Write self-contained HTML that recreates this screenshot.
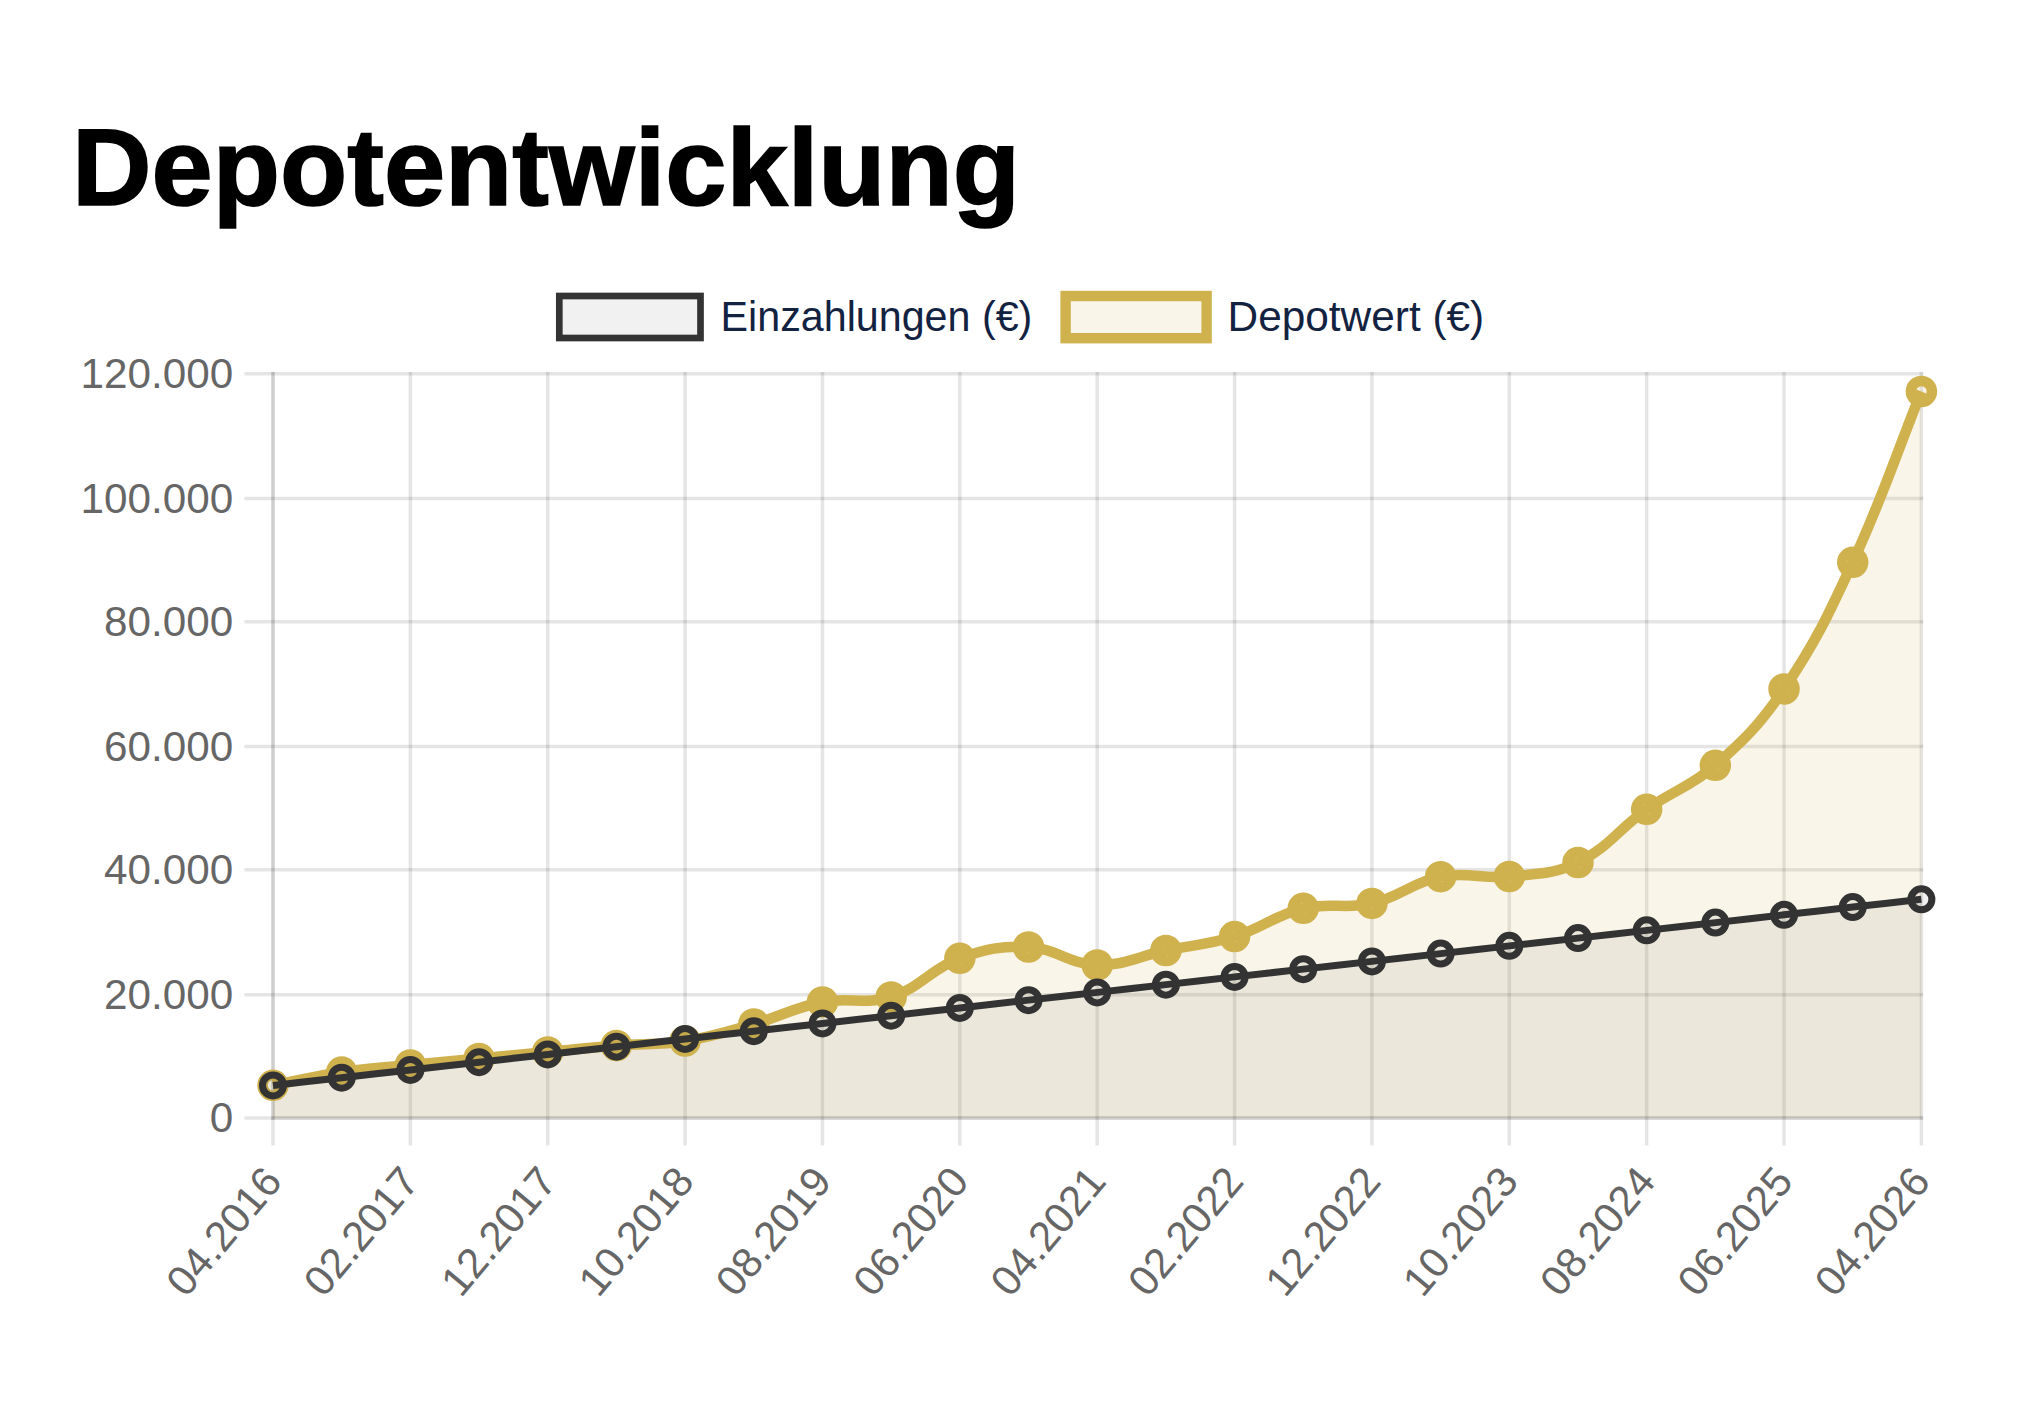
<!DOCTYPE html>
<html><head><meta charset="utf-8"><style>
html,body{margin:0;padding:0;background:#fff;width:2030px;height:1408px;overflow:hidden}
h1{position:absolute;left:71.5px;top:113px;margin:0;font-family:"Liberation Sans",sans-serif;font-weight:bold;font-size:109px;line-height:1;color:#000;white-space:nowrap;transform:scaleX(1.01);transform-origin:0 0;-webkit-text-stroke:1.6px #000}
svg{position:absolute;left:0;top:0}
.tk{font-family:"Liberation Sans",sans-serif;font-size:42px;fill:#666}
.lg{font-family:"Liberation Sans",sans-serif;font-size:42px;fill:#132241}
</style></head><body>
<h1 id="t">Depotentwicklung</h1>
<svg width="2030" height="1408" viewBox="0 0 2030 1408">
<line x1="244.4" y1="1118.00" x2="1923.15" y2="1118.00" stroke="rgba(0,0,0,0.1)" stroke-width="3.5"/>
<line x1="244.4" y1="994.70" x2="1923.15" y2="994.70" stroke="rgba(0,0,0,0.1)" stroke-width="3.5"/>
<line x1="244.4" y1="869.70" x2="1923.15" y2="869.70" stroke="rgba(0,0,0,0.1)" stroke-width="3.5"/>
<line x1="244.4" y1="746.50" x2="1923.15" y2="746.50" stroke="rgba(0,0,0,0.1)" stroke-width="3.5"/>
<line x1="244.4" y1="621.80" x2="1923.15" y2="621.80" stroke="rgba(0,0,0,0.1)" stroke-width="3.5"/>
<line x1="244.4" y1="498.55" x2="1923.15" y2="498.55" stroke="rgba(0,0,0,0.1)" stroke-width="3.5"/>
<line x1="244.4" y1="373.65" x2="1923.15" y2="373.65" stroke="rgba(0,0,0,0.1)" stroke-width="3.5"/>
<line x1="273.00" y1="371.90" x2="273.00" y2="1145.50" stroke="rgba(0,0,0,0.1)" stroke-width="3.5"/>
<line x1="410.37" y1="371.90" x2="410.37" y2="1145.50" stroke="rgba(0,0,0,0.1)" stroke-width="3.5"/>
<line x1="547.73" y1="371.90" x2="547.73" y2="1145.50" stroke="rgba(0,0,0,0.1)" stroke-width="3.5"/>
<line x1="685.10" y1="371.90" x2="685.10" y2="1145.50" stroke="rgba(0,0,0,0.1)" stroke-width="3.5"/>
<line x1="822.47" y1="371.90" x2="822.47" y2="1145.50" stroke="rgba(0,0,0,0.1)" stroke-width="3.5"/>
<line x1="959.83" y1="371.90" x2="959.83" y2="1145.50" stroke="rgba(0,0,0,0.1)" stroke-width="3.5"/>
<line x1="1097.20" y1="371.90" x2="1097.20" y2="1145.50" stroke="rgba(0,0,0,0.1)" stroke-width="3.5"/>
<line x1="1234.57" y1="371.90" x2="1234.57" y2="1145.50" stroke="rgba(0,0,0,0.1)" stroke-width="3.5"/>
<line x1="1371.93" y1="371.90" x2="1371.93" y2="1145.50" stroke="rgba(0,0,0,0.1)" stroke-width="3.5"/>
<line x1="1509.30" y1="371.90" x2="1509.30" y2="1145.50" stroke="rgba(0,0,0,0.1)" stroke-width="3.5"/>
<line x1="1646.67" y1="371.90" x2="1646.67" y2="1145.50" stroke="rgba(0,0,0,0.1)" stroke-width="3.5"/>
<line x1="1784.03" y1="371.90" x2="1784.03" y2="1145.50" stroke="rgba(0,0,0,0.1)" stroke-width="3.5"/>
<line x1="1921.40" y1="371.90" x2="1921.40" y2="1145.50" stroke="rgba(0,0,0,0.1)" stroke-width="3.5"/>
<line x1="273.00" y1="371.90" x2="273.00" y2="1119.75" stroke="rgba(0,0,0,0.1)" stroke-width="3.5"/>
<line x1="271.25" y1="1118.00" x2="1923.15" y2="1118.00" stroke="rgba(0,0,0,0.1)" stroke-width="3.5"/>
<path d="M273.00,1085.30 C300.47,1080.02 314.03,1076.19 341.68,1072.10 C368.98,1068.07 382.88,1067.72 410.37,1065.00 C437.83,1062.28 451.58,1061.10 479.05,1058.50 C506.52,1055.90 520.26,1054.60 547.73,1052.00 C575.21,1049.40 588.91,1047.70 616.42,1045.50 C643.86,1043.30 658.01,1045.24 685.10,1041.00 C712.95,1036.64 726.57,1031.73 753.78,1024.00 C781.52,1016.13 794.36,1007.52 822.47,1002.00 C849.31,996.72 865.53,1005.15 891.15,997.00 C920.48,987.67 930.65,968.92 959.83,958.30 C985.60,948.92 1001.32,945.67 1028.52,947.00 C1056.26,948.35 1069.57,964.30 1097.20,965.00 C1124.52,965.70 1138.39,956.18 1165.88,950.50 C1193.33,944.82 1207.89,944.79 1234.57,936.60 C1262.84,927.91 1274.74,915.19 1303.25,908.30 C1329.68,901.91 1345.39,909.51 1371.93,903.40 C1400.34,896.87 1412.18,882.27 1440.62,876.70 C1467.12,871.51 1482.10,879.29 1509.30,876.50 C1537.05,873.65 1553.46,874.60 1577.98,862.60 C1608.41,847.72 1618.32,829.38 1646.67,809.30 C1673.26,790.46 1691.02,786.61 1715.35,765.30 C1745.97,738.49 1761.18,722.78 1784.03,689.00 C1816.12,641.58 1828.59,614.55 1852.72,562.30 C1883.54,495.55 1893.93,459.82 1921.40,391.50 L1921.40,1118.00 L273.00,1118.00 Z" fill="rgba(207,177,78,0.13)"/>
<path d="M273.00,1085.43 C300.47,1082.33 314.21,1080.78 341.68,1077.68 C369.16,1074.58 382.89,1073.03 410.37,1069.93 C437.84,1066.83 451.58,1065.28 479.05,1062.17 C506.52,1059.07 520.26,1057.52 547.73,1054.42 C575.21,1051.32 588.94,1049.77 616.42,1046.67 C643.89,1043.57 657.63,1042.01 685.10,1038.91 C712.57,1035.81 726.31,1034.26 753.78,1031.16 C781.26,1028.06 794.99,1026.51 822.47,1023.41 C849.94,1020.30 863.68,1018.75 891.15,1015.65 C918.62,1012.55 932.36,1011.00 959.83,1007.90 C987.31,1004.80 1001.04,1003.25 1028.52,1000.14 C1055.99,997.04 1069.73,995.49 1097.20,992.39 C1124.67,989.29 1138.41,987.74 1165.88,984.64 C1193.36,981.54 1207.09,979.99 1234.57,976.88 C1262.04,973.78 1275.78,972.23 1303.25,969.13 C1330.72,966.03 1344.46,964.48 1371.93,961.38 C1399.41,958.27 1413.14,956.72 1440.62,953.62 C1468.09,950.52 1481.83,948.97 1509.30,945.87 C1536.77,942.77 1550.51,941.22 1577.98,938.12 C1605.46,935.01 1619.19,933.46 1646.67,930.36 C1674.14,927.26 1687.88,925.71 1715.35,922.61 C1742.82,919.51 1756.56,917.96 1784.03,914.85 C1811.51,911.75 1825.24,910.20 1852.72,907.10 C1880.19,904.00 1893.93,902.45 1921.40,899.35 L1921.40,1118.00 L273.00,1118.00 Z" fill="rgba(51,51,51,0.07)"/>
<path d="M273.00,1085.30 C300.47,1080.02 314.03,1076.19 341.68,1072.10 C368.98,1068.07 382.88,1067.72 410.37,1065.00 C437.83,1062.28 451.58,1061.10 479.05,1058.50 C506.52,1055.90 520.26,1054.60 547.73,1052.00 C575.21,1049.40 588.91,1047.70 616.42,1045.50 C643.86,1043.30 658.01,1045.24 685.10,1041.00 C712.95,1036.64 726.57,1031.73 753.78,1024.00 C781.52,1016.13 794.36,1007.52 822.47,1002.00 C849.31,996.72 865.53,1005.15 891.15,997.00 C920.48,987.67 930.65,968.92 959.83,958.30 C985.60,948.92 1001.32,945.67 1028.52,947.00 C1056.26,948.35 1069.57,964.30 1097.20,965.00 C1124.52,965.70 1138.39,956.18 1165.88,950.50 C1193.33,944.82 1207.89,944.79 1234.57,936.60 C1262.84,927.91 1274.74,915.19 1303.25,908.30 C1329.68,901.91 1345.39,909.51 1371.93,903.40 C1400.34,896.87 1412.18,882.27 1440.62,876.70 C1467.12,871.51 1482.10,879.29 1509.30,876.50 C1537.05,873.65 1553.46,874.60 1577.98,862.60 C1608.41,847.72 1618.32,829.38 1646.67,809.30 C1673.26,790.46 1691.02,786.61 1715.35,765.30 C1745.97,738.49 1761.18,722.78 1784.03,689.00 C1816.12,641.58 1828.59,614.55 1852.72,562.30 C1883.54,495.55 1893.93,459.82 1921.40,391.50" fill="none" stroke="#cfb14e" stroke-width="10.5" stroke-linejoin="round"/>
<circle cx="273.00" cy="1085.30" r="10.5" fill="rgba(207,177,78,0.13)" stroke="#cfb14e" stroke-width="10.5"/>
<circle cx="341.68" cy="1072.10" r="10.5" fill="rgba(207,177,78,0.13)" stroke="#cfb14e" stroke-width="10.5"/>
<circle cx="410.37" cy="1065.00" r="10.5" fill="rgba(207,177,78,0.13)" stroke="#cfb14e" stroke-width="10.5"/>
<circle cx="479.05" cy="1058.50" r="10.5" fill="rgba(207,177,78,0.13)" stroke="#cfb14e" stroke-width="10.5"/>
<circle cx="547.73" cy="1052.00" r="10.5" fill="rgba(207,177,78,0.13)" stroke="#cfb14e" stroke-width="10.5"/>
<circle cx="616.42" cy="1045.50" r="10.5" fill="rgba(207,177,78,0.13)" stroke="#cfb14e" stroke-width="10.5"/>
<circle cx="685.10" cy="1041.00" r="10.5" fill="rgba(207,177,78,0.13)" stroke="#cfb14e" stroke-width="10.5"/>
<circle cx="753.78" cy="1024.00" r="10.5" fill="rgba(207,177,78,0.13)" stroke="#cfb14e" stroke-width="10.5"/>
<circle cx="822.47" cy="1002.00" r="10.5" fill="rgba(207,177,78,0.13)" stroke="#cfb14e" stroke-width="10.5"/>
<circle cx="891.15" cy="997.00" r="10.5" fill="rgba(207,177,78,0.13)" stroke="#cfb14e" stroke-width="10.5"/>
<circle cx="959.83" cy="958.30" r="10.5" fill="rgba(207,177,78,0.13)" stroke="#cfb14e" stroke-width="10.5"/>
<circle cx="1028.52" cy="947.00" r="10.5" fill="rgba(207,177,78,0.13)" stroke="#cfb14e" stroke-width="10.5"/>
<circle cx="1097.20" cy="965.00" r="10.5" fill="rgba(207,177,78,0.13)" stroke="#cfb14e" stroke-width="10.5"/>
<circle cx="1165.88" cy="950.50" r="10.5" fill="rgba(207,177,78,0.13)" stroke="#cfb14e" stroke-width="10.5"/>
<circle cx="1234.57" cy="936.60" r="10.5" fill="rgba(207,177,78,0.13)" stroke="#cfb14e" stroke-width="10.5"/>
<circle cx="1303.25" cy="908.30" r="10.5" fill="rgba(207,177,78,0.13)" stroke="#cfb14e" stroke-width="10.5"/>
<circle cx="1371.93" cy="903.40" r="10.5" fill="rgba(207,177,78,0.13)" stroke="#cfb14e" stroke-width="10.5"/>
<circle cx="1440.62" cy="876.70" r="10.5" fill="rgba(207,177,78,0.13)" stroke="#cfb14e" stroke-width="10.5"/>
<circle cx="1509.30" cy="876.50" r="10.5" fill="rgba(207,177,78,0.13)" stroke="#cfb14e" stroke-width="10.5"/>
<circle cx="1577.98" cy="862.60" r="10.5" fill="rgba(207,177,78,0.13)" stroke="#cfb14e" stroke-width="10.5"/>
<circle cx="1646.67" cy="809.30" r="10.5" fill="rgba(207,177,78,0.13)" stroke="#cfb14e" stroke-width="10.5"/>
<circle cx="1715.35" cy="765.30" r="10.5" fill="rgba(207,177,78,0.13)" stroke="#cfb14e" stroke-width="10.5"/>
<circle cx="1784.03" cy="689.00" r="10.5" fill="rgba(207,177,78,0.13)" stroke="#cfb14e" stroke-width="10.5"/>
<circle cx="1852.72" cy="562.30" r="10.5" fill="rgba(207,177,78,0.13)" stroke="#cfb14e" stroke-width="10.5"/>
<circle cx="1921.40" cy="391.50" r="10.5" fill="rgba(207,177,78,0.13)" stroke="#cfb14e" stroke-width="10.5"/>
<path d="M273.00,1085.43 C300.47,1082.33 314.21,1080.78 341.68,1077.68 C369.16,1074.58 382.89,1073.03 410.37,1069.93 C437.84,1066.83 451.58,1065.28 479.05,1062.17 C506.52,1059.07 520.26,1057.52 547.73,1054.42 C575.21,1051.32 588.94,1049.77 616.42,1046.67 C643.89,1043.57 657.63,1042.01 685.10,1038.91 C712.57,1035.81 726.31,1034.26 753.78,1031.16 C781.26,1028.06 794.99,1026.51 822.47,1023.41 C849.94,1020.30 863.68,1018.75 891.15,1015.65 C918.62,1012.55 932.36,1011.00 959.83,1007.90 C987.31,1004.80 1001.04,1003.25 1028.52,1000.14 C1055.99,997.04 1069.73,995.49 1097.20,992.39 C1124.67,989.29 1138.41,987.74 1165.88,984.64 C1193.36,981.54 1207.09,979.99 1234.57,976.88 C1262.04,973.78 1275.78,972.23 1303.25,969.13 C1330.72,966.03 1344.46,964.48 1371.93,961.38 C1399.41,958.27 1413.14,956.72 1440.62,953.62 C1468.09,950.52 1481.83,948.97 1509.30,945.87 C1536.77,942.77 1550.51,941.22 1577.98,938.12 C1605.46,935.01 1619.19,933.46 1646.67,930.36 C1674.14,927.26 1687.88,925.71 1715.35,922.61 C1742.82,919.51 1756.56,917.96 1784.03,914.85 C1811.51,911.75 1825.24,910.20 1852.72,907.10 C1880.19,904.00 1893.93,902.45 1921.40,899.35" fill="none" stroke="#333333" stroke-width="7" stroke-linejoin="round"/>
<circle cx="273.00" cy="1085.43" r="10.5" fill="rgba(51,51,51,0.07)" stroke="#333333" stroke-width="7"/>
<circle cx="341.68" cy="1077.68" r="10.5" fill="rgba(51,51,51,0.07)" stroke="#333333" stroke-width="7"/>
<circle cx="410.37" cy="1069.93" r="10.5" fill="rgba(51,51,51,0.07)" stroke="#333333" stroke-width="7"/>
<circle cx="479.05" cy="1062.17" r="10.5" fill="rgba(51,51,51,0.07)" stroke="#333333" stroke-width="7"/>
<circle cx="547.73" cy="1054.42" r="10.5" fill="rgba(51,51,51,0.07)" stroke="#333333" stroke-width="7"/>
<circle cx="616.42" cy="1046.67" r="10.5" fill="rgba(51,51,51,0.07)" stroke="#333333" stroke-width="7"/>
<circle cx="685.10" cy="1038.91" r="10.5" fill="rgba(51,51,51,0.07)" stroke="#333333" stroke-width="7"/>
<circle cx="753.78" cy="1031.16" r="10.5" fill="rgba(51,51,51,0.07)" stroke="#333333" stroke-width="7"/>
<circle cx="822.47" cy="1023.41" r="10.5" fill="rgba(51,51,51,0.07)" stroke="#333333" stroke-width="7"/>
<circle cx="891.15" cy="1015.65" r="10.5" fill="rgba(51,51,51,0.07)" stroke="#333333" stroke-width="7"/>
<circle cx="959.83" cy="1007.90" r="10.5" fill="rgba(51,51,51,0.07)" stroke="#333333" stroke-width="7"/>
<circle cx="1028.52" cy="1000.14" r="10.5" fill="rgba(51,51,51,0.07)" stroke="#333333" stroke-width="7"/>
<circle cx="1097.20" cy="992.39" r="10.5" fill="rgba(51,51,51,0.07)" stroke="#333333" stroke-width="7"/>
<circle cx="1165.88" cy="984.64" r="10.5" fill="rgba(51,51,51,0.07)" stroke="#333333" stroke-width="7"/>
<circle cx="1234.57" cy="976.88" r="10.5" fill="rgba(51,51,51,0.07)" stroke="#333333" stroke-width="7"/>
<circle cx="1303.25" cy="969.13" r="10.5" fill="rgba(51,51,51,0.07)" stroke="#333333" stroke-width="7"/>
<circle cx="1371.93" cy="961.38" r="10.5" fill="rgba(51,51,51,0.07)" stroke="#333333" stroke-width="7"/>
<circle cx="1440.62" cy="953.62" r="10.5" fill="rgba(51,51,51,0.07)" stroke="#333333" stroke-width="7"/>
<circle cx="1509.30" cy="945.87" r="10.5" fill="rgba(51,51,51,0.07)" stroke="#333333" stroke-width="7"/>
<circle cx="1577.98" cy="938.12" r="10.5" fill="rgba(51,51,51,0.07)" stroke="#333333" stroke-width="7"/>
<circle cx="1646.67" cy="930.36" r="10.5" fill="rgba(51,51,51,0.07)" stroke="#333333" stroke-width="7"/>
<circle cx="1715.35" cy="922.61" r="10.5" fill="rgba(51,51,51,0.07)" stroke="#333333" stroke-width="7"/>
<circle cx="1784.03" cy="914.85" r="10.5" fill="rgba(51,51,51,0.07)" stroke="#333333" stroke-width="7"/>
<circle cx="1852.72" cy="907.10" r="10.5" fill="rgba(51,51,51,0.07)" stroke="#333333" stroke-width="7"/>
<circle cx="1921.40" cy="899.35" r="10.5" fill="rgba(51,51,51,0.07)" stroke="#333333" stroke-width="7"/>
<text transform="translate(233.2,1132.25) scale(0.983,1)" text-anchor="end" class="tk" style="font-size:43px">0</text>
<text transform="translate(233.2,1008.95) scale(0.983,1)" text-anchor="end" class="tk" style="font-size:43px">20.000</text>
<text transform="translate(233.2,883.95) scale(0.983,1)" text-anchor="end" class="tk" style="font-size:43px">40.000</text>
<text transform="translate(233.2,760.75) scale(0.983,1)" text-anchor="end" class="tk" style="font-size:43px">60.000</text>
<text transform="translate(233.2,636.05) scale(0.983,1)" text-anchor="end" class="tk" style="font-size:43px">80.000</text>
<text transform="translate(233.2,512.80) scale(0.983,1)" text-anchor="end" class="tk" style="font-size:43px">100.000</text>
<text transform="translate(233.2,387.90) scale(0.983,1)" text-anchor="end" class="tk" style="font-size:43px">120.000</text>
<text transform="translate(272.20,1172.80) rotate(-50)" x="0" y="15" text-anchor="end" class="tk">04.2016</text>
<text transform="translate(409.57,1172.80) rotate(-50)" x="0" y="15" text-anchor="end" class="tk">02.2017</text>
<text transform="translate(546.93,1172.80) rotate(-50)" x="0" y="15" text-anchor="end" class="tk">12.2017</text>
<text transform="translate(684.30,1172.80) rotate(-50)" x="0" y="15" text-anchor="end" class="tk">10.2018</text>
<text transform="translate(821.67,1172.80) rotate(-50)" x="0" y="15" text-anchor="end" class="tk">08.2019</text>
<text transform="translate(959.03,1172.80) rotate(-50)" x="0" y="15" text-anchor="end" class="tk">06.2020</text>
<text transform="translate(1096.40,1172.80) rotate(-50)" x="0" y="15" text-anchor="end" class="tk">04.2021</text>
<text transform="translate(1233.77,1172.80) rotate(-50)" x="0" y="15" text-anchor="end" class="tk">02.2022</text>
<text transform="translate(1371.13,1172.80) rotate(-50)" x="0" y="15" text-anchor="end" class="tk">12.2022</text>
<text transform="translate(1508.50,1172.80) rotate(-50)" x="0" y="15" text-anchor="end" class="tk">10.2023</text>
<text transform="translate(1645.87,1172.80) rotate(-50)" x="0" y="15" text-anchor="end" class="tk">08.2024</text>
<text transform="translate(1783.23,1172.80) rotate(-50)" x="0" y="15" text-anchor="end" class="tk">06.2025</text>
<text transform="translate(1920.60,1172.80) rotate(-50)" x="0" y="15" text-anchor="end" class="tk">04.2026</text>
<rect x="559.3" y="296" width="141.2" height="42" fill="rgba(51,51,51,0.07)" stroke="#333333" stroke-width="6.7"/>
<text transform="translate(724.3,331.3) scale(0.982,1)" x="-3.8" y="0" class="lg">Einzahlungen (€)</text>
<rect x="1065.6" y="296" width="141" height="42.2" fill="rgba(207,177,78,0.13)" stroke="#cfb14e" stroke-width="10.4"/>
<text transform="translate(1230.8,331.3) scale(1.009,1)" x="-3.2" y="0" class="lg">Depotwert (€)</text>
</svg>
</body></html>
